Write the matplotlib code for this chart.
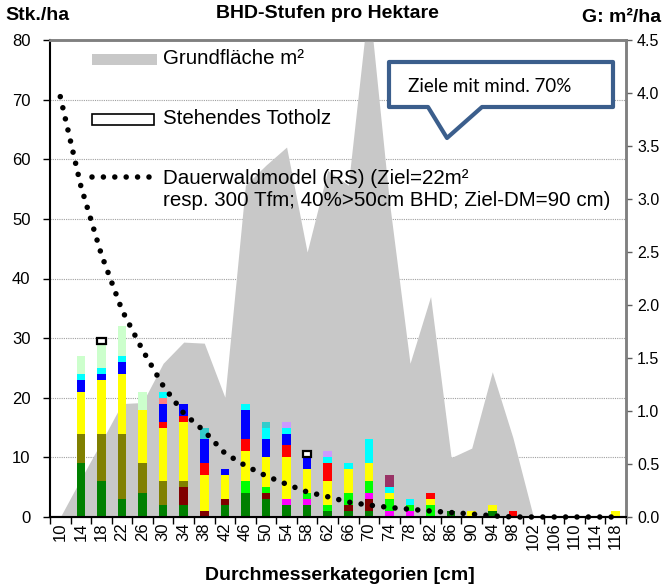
import matplotlib
matplotlib.use('Agg')
import matplotlib.pyplot as plt
import numpy as np
from matplotlib.patches import Rectangle, Polygon
from matplotlib.lines import Line2D

plt.rcParams['font.family'] = ['Liberation Sans', 'DejaVu Sans']

W, H = 663, 586

# Durchmesserkategorien [cm]
kat = [10, 14, 18, 22, 26, 30, 34, 38, 42, 46, 50, 54, 58, 62, 66, 70,
       74, 78, 82, 86, 90, 94, 98, 102, 106, 110, 114, 118]
kat_labels = [str(k) for k in kat]

# Grundflaeche m2/ha (rechte Achse)
grundflaeche = [0.0, 0.36, 0.71, 1.07, 1.08, 1.45, 1.65, 1.64, 1.13, 3.13,
                3.32, 3.49, 2.50, 3.27, 3.13, 4.88, 2.97, 1.45, 2.08, 0.56,
                0.65, 1.37, 0.75, 0.0, 0.0, 0.0, 0.0, 0.0]

# Dauerwaldmodell (RS), Stk./ha
dauerwald = [70.5, 55.5, 44.0, 34.7, 28.0, 22.0, 17.4, 14.4, 10.7, 8.6,
             6.9, 5.5, 4.2, 3.4, 2.5, 2.0, 1.6, 1.3, 1.0, 0.75,
             0.5, 0.2, 0.0, 0.0, 0.0, 0.0, 0.0, 0.0]

# Stammzahlen pro Baumart (gestapelt, von unten nach oben)
s_gruen      = [0, 9, 6, 3, 4, 2, 2, 0, 2, 4, 3, 2, 2, 1, 1, 1, 0, 0, 0, 1, 0, 1, 0, 0, 0, 0, 0, 0]
s_dunkelrot  = [0, 0, 0, 0, 0, 0, 3, 1, 1, 0, 1, 0, 0, 0, 1, 2, 0, 0, 0, 0, 0, 0, 0, 0, 0, 0, 0, 0]
s_oliv       = [0, 5, 8, 11, 5, 4, 1, 0, 0, 0, 0, 0, 0, 0, 0, 0, 0, 0, 0, 0, 0, 0, 0, 0, 0, 0, 0, 0]
s_magenta    = [0, 0, 0, 0, 0, 0, 0, 0, 0, 0, 0, 1, 1, 0, 0, 1, 1, 1, 0, 0, 0, 0, 0, 0, 0, 0, 0, 0]
s_hellgruen  = [0, 0, 0, 0, 0, 0, 0, 0, 0, 2, 1, 0, 1, 1, 2, 2, 2, 1, 2, 0, 0, 0, 0, 0, 0, 0, 0, 0]
s_gelb       = [0, 7, 9, 10, 9, 9, 10, 6, 4, 5, 5, 7, 4, 4, 4, 3, 1, 0, 1, 0, 1, 1, 0, 0, 0, 0, 0, 1]
s_rot        = [0, 0, 0, 0, 0, 1, 1, 2, 0, 2, 0, 2, 0, 3, 0, 0, 0, 0, 1, 0, 0, 0, 1, 0, 0, 0, 0, 0]
s_blau       = [0, 2, 1, 2, 0, 3, 2, 4, 1, 5, 3, 2, 2, 0, 0, 0, 0, 0, 0, 0, 0, 0, 0, 0, 0, 0, 0, 0]
s_rosa       = [0, 0, 0, 0, 0, 1, 0, 0, 0, 0, 0, 0, 0, 0, 0, 0, 0, 0, 0, 0, 0, 0, 0, 0, 0, 0, 0, 0]
s_cyan       = [0, 1, 1, 1, 0, 1, 0, 0, 0, 1, 2, 1, 0, 1, 1, 4, 1, 1, 0, 0, 0, 0, 0, 0, 0, 0, 0, 0]
s_tuerkis    = [0, 0, 0, 0, 0, 0, 0, 2, 0, 0, 1, 0, 0, 0, 0, 0, 0, 0, 0, 0, 0, 0, 0, 0, 0, 0, 0, 0]
s_violett    = [0, 0, 0, 0, 0, 0, 0, 0, 0, 0, 0, 1, 0, 1, 0, 0, 0, 0, 0, 0, 0, 0, 0, 0, 0, 0, 0, 0]
s_pflaume    = [0, 0, 0, 0, 0, 0, 0, 0, 0, 0, 0, 0, 0, 0, 0, 0, 2, 0, 0, 0, 0, 0, 0, 0, 0, 0, 0, 0]
s_blassgruen = [0, 3, 4, 5, 3, 0, 0, 0, 0, 0, 0, 0, 0, 0, 0, 0, 0, 0, 0, 0, 0, 0, 0, 0, 0, 0, 0, 0]
totholz      = [0, 0, 1, 0, 0, 0, 0, 0, 0, 0, 0, 0, 1, 0, 0, 0, 0, 0, 0, 0, 0, 0, 0, 0, 0, 0, 0, 0]

stapel = [
    (s_gruen, '#008000'), (s_dunkelrot, '#800000'), (s_oliv, '#808000'),
    (s_magenta, '#ff00ff'), (s_hellgruen, '#00ff00'), (s_gelb, '#ffff00'),
    (s_rot, '#ff0000'), (s_blau, '#0000ff'), (s_rosa, '#ff8080'),
    (s_cyan, '#00ffff'), (s_tuerkis, '#33cccc'), (s_violett, '#cc99ff'),
    (s_pflaume, '#993366'), (s_blassgruen, '#ccffcc'),
]


def fig_xy(x, y):
    # pixel -> figure fraction
    return (x / W, 1 - y / H)


fig = plt.figure(figsize=(W / 100, H / 100), dpi=100)
rect = [50 / W, 1 - 517 / H, 576 / W, 477 / H]

# --- Hintergrund: Gitter + linke Achse ---
ax = fig.add_axes(rect)
ax.set_zorder(1)
ax.set_xlim(-0.5, len(kat) - 0.5)
ax.set_ylim(0, 80)
ax.set_yticks(np.arange(0, 81, 10))
ax.tick_params(axis='y', labelsize=12, length=5, width=1, pad=9)
ax.yaxis.grid(True, color='#a0a0a0', linestyle=(0, (1, 1)), linewidth=0.8)
ax.set_axisbelow(True)
x = np.arange(len(kat))
ax.set_xticks(x)
ax.set_xticklabels(kat_labels, rotation=90, fontsize=12)
ax.set_xticks(np.arange(-0.5, len(kat), 1), minor=True)
ax.tick_params(axis='x', which='major', length=0, pad=4)
ax.tick_params(axis='x', which='minor', length=5, width=1)
for s in ['left', 'bottom']:
    ax.spines[s].set_color('black')
    ax.spines[s].set_linewidth(1.5)
for s in ['top', 'right']:
    ax.spines[s].set_color('#808080')
    ax.spines[s].set_linewidth(1.8)

# --- Grundflaeche (rechte Achse) ---
ax2 = ax.twinx()
ax2.set_zorder(2)
ax2.patch.set_visible(False)
ax2.set_ylim(0, 4.5)
ax2.set_yticks(np.arange(0, 4.51, 0.5))
ax2.set_yticklabels(['%.1f' % v for v in np.arange(0, 4.51, 0.5)])
ax2.tick_params(axis='y', labelsize=11.5, length=4, width=1, color='#606060', pad=4)
ax2.fill_between(x, grundflaeche, 0, color='#c8c8c8', linewidth=0)
for s in ['top', 'right']:
    ax2.spines[s].set_color('#808080')
    ax2.spines[s].set_linewidth(1.8)
ax2.spines['left'].set_visible(False)
ax2.spines['bottom'].set_visible(False)

# --- Balken + Dauerwaldmodell ---
ax3 = ax.twinx()
ax3.set_zorder(3)
ax3.patch.set_visible(False)
ax3.set_ylim(0, 80)
ax3.set_yticks([])
for s in ax3.spines.values():
    s.set_visible(False)
ax3.spines['bottom'].set_visible(True)
ax3.spines['bottom'].set_color('black')
ax3.spines['bottom'].set_linewidth(1.5)

bottom = np.zeros(len(kat))
for werte, farbe in stapel:
    werte = np.array(werte, dtype=float)
    ax3.bar(x, werte, 0.42, bottom=bottom, color=farbe, linewidth=0)
    bottom += werte
tot = np.array(totholz, dtype=float)
hat_tot = tot > 0
ax3.bar(x[hat_tot], tot[hat_tot], 0.42, bottom=bottom[hat_tot], color='white',
        edgecolor='black', linewidth=1.6)

dot_style = dict(color='black', linewidth=4.0, linestyle=(0, (0.001, 2.05)),
                 dash_capstyle='round')
ax3.plot(x, dauerwald, clip_on=False, **dot_style)

# --- Legende (manuell) ---
fig.add_artist(Rectangle(fig_xy(92, 65), 65 / W, 11 / H, transform=fig.transFigure,
                         facecolor='#c8c8c8', edgecolor='none', zorder=10))
fig.add_artist(Rectangle(fig_xy(92, 125), 62 / W, 11 / H, transform=fig.transFigure,
                         facecolor='white', edgecolor='black', linewidth=1.2, zorder=10))
lx0, ly = fig_xy(92, 177)
lx1, _ = fig_xy(150, 177)
fig.add_artist(Line2D([lx0, lx1], [ly, ly], transform=fig.transFigure, zorder=10,
                      **dot_style))
leg_font = dict(fontsize=14.8, va='center', ha='left', zorder=11)
fig.text(*fig_xy(163, 59), 'Grundfläche m²', **leg_font)
fig.text(*fig_xy(163, 119), 'Stehendes Totholz', **leg_font)
fig.text(*fig_xy(163, 179), 'Dauerwaldmodel (RS) (Ziel=22m²', **leg_font)
fig.text(*fig_xy(163, 201), 'resp. 300 Tfm; 40%>50cm BHD; Ziel-DM=90 cm)', **leg_font)

# --- Sprechblase ---
blase = [(389, 62), (613, 62), (613, 107), (482, 107), (447, 138), (428, 107), (389, 107)]
fig.add_artist(Polygon([fig_xy(px, py) for px, py in blase], closed=True,
                       transform=fig.transFigure, facecolor='white',
                       edgecolor='#3b5e8c', linewidth=3, joinstyle='round', zorder=10))
fig.text(*fig_xy(408, 86), 'Ziele mit mind. 70%', fontsize=13.5, va='center', ha='left',
         family=['Lato', 'DejaVu Sans'], zorder=11)

# --- Titel und Achsentitel ---
fig.text(*fig_xy(327, 13), 'BHD-Stufen pro Hektare', fontsize=14, fontweight='bold',
         ha='center', va='center')
fig.text(*fig_xy(5, 15), 'Stk./ha', fontsize=14, fontweight='bold', ha='left', va='center')
fig.text(*fig_xy(661, 18), 'G: m²/ha', fontsize=14, fontweight='bold', ha='right', va='center')
fig.text(*fig_xy(340, 576), 'Durchmesserkategorien [cm]', fontsize=14, fontweight='bold',
         ha='center', va='center')

fig.savefig('out.png', dpi=100)
